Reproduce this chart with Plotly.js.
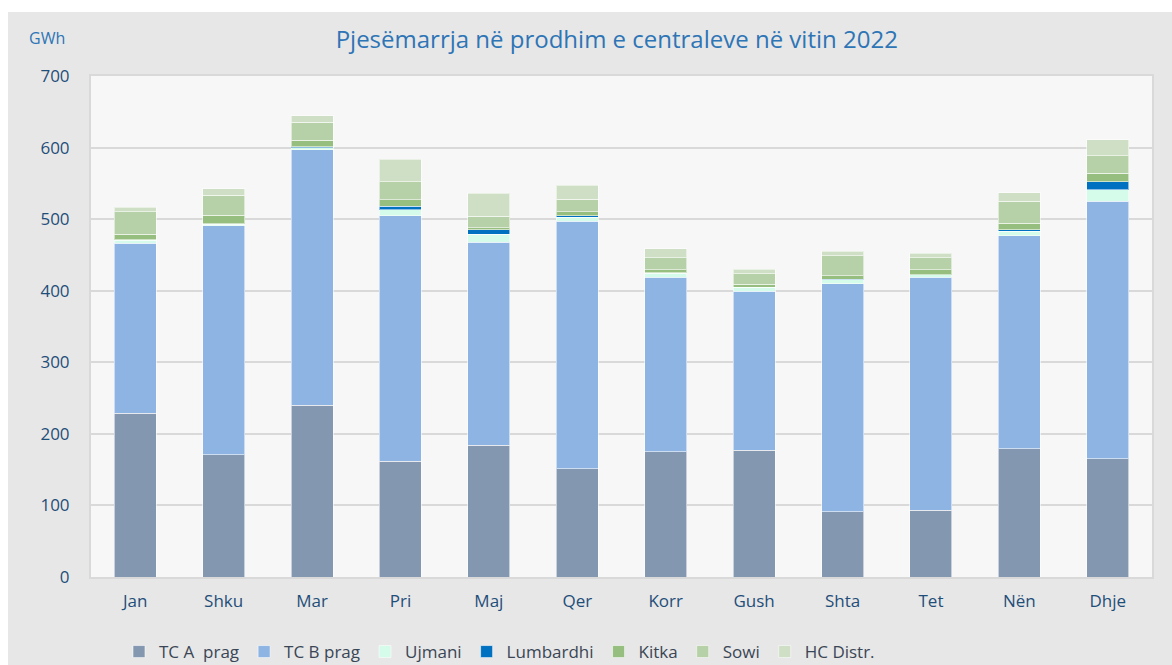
<!DOCTYPE html>
<html>
<head>
<meta charset="utf-8">
<script src="https://cdn.plot.ly/plotly-3.0.1.min.js"></script>
<style>
html,body{margin:0;padding:0;background:#ffffff;width:1172px;height:665px;overflow:hidden;}
#chart{position:absolute;left:8px;top:12px;width:1164px;height:693px;}
</style>
</head>
<body>
<div id="chart"></div>
<script>
const months = ["Jan","Shku","Mar","Pri","Maj","Qer","Korr","Gush","Shta","Tet","Nën","Dhje"];
const tcA       = [229, 171, 240, 162, 184, 151, 175, 177,  91,  93, 179, 165];
const tcB       = [237, 320, 357, 343, 284, 346, 244, 222, 319, 326, 298, 360];
const ujmani    = [4.5,   2, 2.5,   8,  11, 5.5, 5.5, 5.5, 5.5,   3,   6,  16];
const lumbardhi = [0.5, 0.3,   2,   5,   6, 2.5, 0.3, 0.3, 0.3, 0.3, 2.5,  11];
const kitka     = [  8,  12,   9,   9,   3, 5.5, 4.5, 4.5,   5,   7, 8.5,  12];
const sowi      = [ 31,  28,  25,  25,  16,  17,  17, 14.5, 28,  17,  31, 24.5];
const hcDistr   = [6.5,   9,   9, 31.5, 32,  20,  12, 6.5, 6.5,   6,  12, 22.5];

const seriesNames = ["TC A\u00a0 prag","TC B prag","Ujmani","Lumbardhi","Kitka","Sowi","HC Distr."];
const seriesData = [tcA, tcB, ujmani, lumbardhi, kitka, sowi, hcDistr];
const seriesColors = ["#8497b0","#8eb4e3","#d5fbea","#0070c0","#95be7f","#b6d0a7","#cedfc6"];

const FONT = "'Open Sans', sans-serif";

const traces = seriesNames.map((n,i)=>({
  type:'bar', name:n, x:months, y:seriesData[i],
  marker:{color:seriesColors[i], line:{color:'rgba(255,255,255,0.55)', width:1}},
  hoverinfo:'x+y+name'
}));

// div height 693 (40px below window, clipped); plot area abs y 76..577
const layout = {
  width:1164, height:693,
  barmode:'stack', bargap:0.525,
  paper_bgcolor:'#e7e7e7', plot_bgcolor:'#f7f7f7',
  margin:{l:83, r:20, t:64, b:128},
  font:{family:FONT, color:'#1f4e79', size:17},
  title:{text:'Pjesëmarrja në prodhim e centraleve në vitin 2022',
         font:{family:FONT, size:24, color:'#2e75b6'},
         x:0.523, xref:'container', xanchor:'center', y:1-28/693, yref:'container', yanchor:'middle'},
  xaxis:{tickfont:{family:FONT, size:17, color:'#1f4e79'}, showline:true, linecolor:'#d9d9d9', linewidth:2, mirror:true,
         ticks:'outside', ticklen:8, tickcolor:'rgba(0,0,0,0)', fixedrange:true},
  yaxis:{range:[0,700], dtick:100, tick0:0, tickfont:{family:FONT, size:17, color:'#1f4e79'},
         showgrid:true, gridcolor:'#d9d9d9', gridwidth:2, showline:true, linecolor:'#d9d9d9', linewidth:2, mirror:true,
         zeroline:false, ticks:'outside', ticklen:16, tickcolor:'rgba(0,0,0,0)', fixedrange:true},
  showlegend:true,
  legend:{orientation:'h', x:0.385, xanchor:'center', y:-(640-565)/501, yanchor:'middle',
          font:{family:FONT, size:17, color:'#3a4655'}, bgcolor:'rgba(0,0,0,0)', traceorder:'normal'},
  annotations:[{text:'GWh', xref:'paper', yref:'paper', x:-0.0415, y:(565-26)/501, xanchor:'center', yanchor:'middle',
                showarrow:false, font:{family:FONT, size:16, color:'#2e75b6'}}]
};

Plotly.newPlot('chart', traces, layout, {displayModeBar:false});
</script>
</body>
</html>
